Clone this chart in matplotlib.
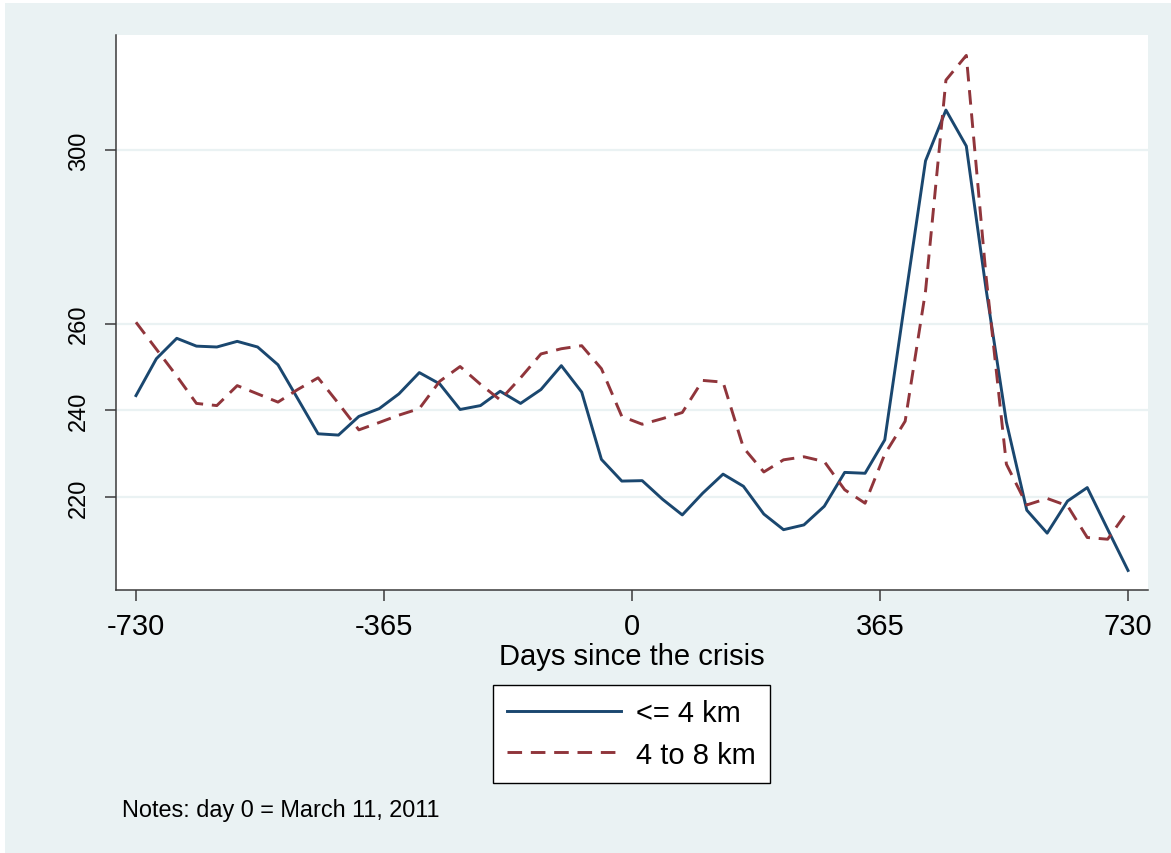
import numpy as np
import matplotlib

matplotlib.use("Agg")
import matplotlib.pyplot as plt
from matplotlib.patches import Rectangle

plt.rcParams["font.family"] = ["Liberation Sans", "DejaVu Sans"]

# days since the crisis (monthly bins)
days = [-730, -700, -670, -641, -611, -581, -551, -521, -492, -462,
        -432, -402, -372, -343, -313, -283, -253, -223, -194, -164,
        -134, -104, -74, -45, -15, 15, 45, 74, 104, 134,
        164, 194, 223, 253, 283, 313, 343, 372, 402, 432,
        462, 492, 521, 551, 581, 611, 641, 670, 700, 730]

near = [243.4, 251.9, 256.6, 254.8, 254.6, 255.9, 254.6, 250.5, 242.7, 234.6,
        234.3, 238.6, 240.4, 243.8, 248.7, 246.1, 240.2, 241.1, 244.4, 241.6,
        244.8, 250.3, 244.2, 228.7, 223.7, 223.8, 219.5, 215.9, 220.9, 225.3,
        222.5, 216.1, 212.5, 213.6, 217.9, 225.7, 225.5, 233.2, 265.5, 297.5,
        309.2, 300.9, 268.0, 237.3, 217.0, 211.7, 219.1, 222.2, 212.6, 203.1]

mid = [260.3, 254.1, 247.9, 241.6, 241.1, 245.7, 243.8, 241.9, 244.8, 247.5,
       241.6, 235.5, 237.2, 238.9, 240.4, 246.7, 250.1, 246.0, 242.4, 247.5,
       253.0, 254.2, 254.9, 249.6, 238.6, 236.8, 238.1, 239.5, 246.9, 246.5,
       231.4, 225.8, 228.6, 229.3, 228.2, 221.7, 218.6, 229.9, 237.5, 267.5,
       316.1, 321.8, 271.0, 227.6, 218.2, 219.7, 218.0, 210.7, 210.3, 216.9]

labels = ["<= 4 km", "4 to 8 km"]
xticks = [-730, -365, 0, 365, 730]
yticks = [220, 240, 260, 300]

W, H = 1171, 854
bg = "#EAF2F3"

fig = plt.figure(figsize=(W / 100, H / 100), dpi=100, facecolor="white")
fig.patches.append(Rectangle((5 / W, 0), 1, 1 - 4 / H, transform=fig.transFigure,
                             facecolor=bg, edgecolor="none", zorder=-10))

ax = fig.add_axes([116 / W, 1 - 591 / H, (1148 - 116) / W, (591 - 36) / H])
ax.set_facecolor("white")

ax.plot(days, near, color="#1A476F", lw=2.1, label=labels[0])
ax.plot(days, mid, color="#90353B", lw=2.1, ls=(0, (5.0, 3.0)), label=labels[1])

ax.set_xlim(-759.4, 759.4)
ax.set_ylim(198.6, 326.5)
ax.set_xticks(xticks)
ax.set_yticks(yticks)
ax.set_xticklabels([str(t) for t in xticks], fontsize=21)
ax.set_yticklabels([str(t) for t in yticks], fontsize=17, rotation=90, va="center")

ax.grid(axis="y", color=bg, lw=1.6)
ax.set_axisbelow(True)
for s in ["top", "right"]:
    ax.spines[s].set_visible(False)
for s in ["left", "bottom"]:
    ax.spines[s].set_color("#3a3a3a")
    ax.spines[s].set_linewidth(1.1)
ax.tick_params(axis="both", direction="out", length=8, width=1.1, color="#3a3a3a")
ax.tick_params(axis="x", pad=8)
ax.tick_params(axis="y", pad=11)

ax.set_xlabel("Days since the crisis", fontsize=21, labelpad=1)

leg = fig.legend(loc="center", bbox_to_anchor=(631.5 / W, 1 - 735 / H), fontsize=21,
                 frameon=True, fancybox=False, edgecolor="black", facecolor="white",
                 framealpha=1, handlelength=3.9, handletextpad=0.5, borderpad=0.5,
                 labelspacing=0.45, borderaxespad=0)
leg.get_frame().set_linewidth(1.0)

fig.text(122 / W, 1 - 817 / H, "Notes: day 0 = March 11, 2011", fontsize=16.9, va="baseline")

fig.savefig("out.png", dpi=100, facecolor=fig.get_facecolor())
